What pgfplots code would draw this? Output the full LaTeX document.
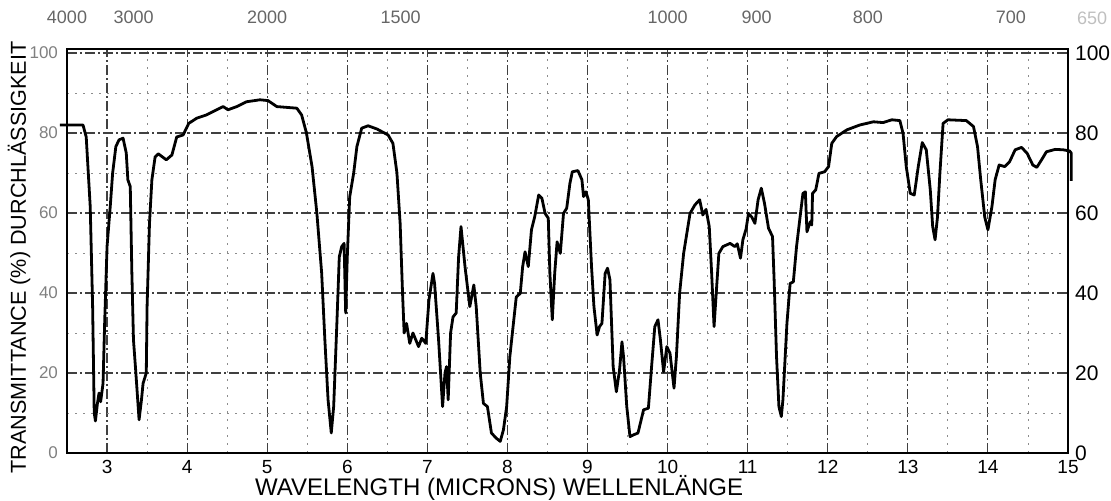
\documentclass[border=0pt]{standalone}
\usepackage{fontspec}
\setmainfont{Liberation Sans}
\usepackage{pgfplots}
\pgfplotsset{compat=1.18}

% IR-Spektrum, Werte (Wellenlaenge in micron, Transmission in %)
\begin{document}
\begin{tikzpicture}
\pgfplotsset{
  irframe/.style={
    scale only axis, width=500.5pt, height=202pt,
    xmin=2.5, xmax=15, ymin=0, ymax=101,
    /pgf/number format/assume math mode=true,
    major tick length=0pt, minor tick length=0pt,
    axis line style={line width=0.9pt},
    clip=false,
  }
}
\begin{axis}[irframe,
  xtick={3,...,15}, ytick={0,20,...,100},
  minor x tick num=1, minor y tick num=1,
  xtick pos=bottom, ytick pos=left,
  xticklabel style={font=\fontsize{9.5}{10}\selectfont},
  yticklabel style={font=\fontsize{8.5}{10}\selectfont, black!50, xshift=-1pt},
  grid=both,
  major grid style={black!75, line width=0.55pt, dash pattern=on 5pt off 1.5pt on 1pt off 1.5pt},
  minor grid style={black!45, line width=0.4pt, dash pattern=on 1pt off 3pt},
  xlabel={WAVELENGTH (MICRONS) WELLENLÄNGE},
  ylabel={TRANSMITTANCE (\%) DURCHLÄSSIGKEIT},
  xlabel style={font=\fontsize{12}{13}\selectfont, at={(rel axis cs:0.4316,-0.0864)}, anchor=center},
  ylabel style={font=\fontsize{10.8}{12}\selectfont, at={(rel axis cs:-0.048,0.484)}, anchor=center},
]
\addplot[black, line width=1.4pt, line join=round] coordinates {
(2.41,82) (2.70,82) (2.74,79) (2.79,61.6) (2.82,36.6) (2.84,10) (2.855,8)
(2.88,12.4) (2.90,15) (2.92,12.8) (2.95,17.4) (2.97,32.4) (3.00,51.6)
(3.04,61.6) (3.07,70) (3.11,76.6) (3.15,78.3) (3.20,78.7) (3.24,75)
(3.26,68.3) (3.29,66.6) (3.31,45) (3.33,28.3) (3.36,20) (3.40,8.3)
(3.43,13.3) (3.45,17.4) (3.49,20) (3.50,36.6) (3.53,57.4) (3.56,68.3)
(3.60,74) (3.64,74.8) (3.74,73.3) (3.81,74.5) (3.87,79) (3.95,79.5)
(4.02,82.4) (4.12,83.7) (4.24,84.5) (4.37,85.8) (4.45,86.6) (4.51,85.8)
(4.62,86.6) (4.74,87.8) (4.91,88.3) (5.01,88.1) (5.12,86.6) (5.37,86.2)
(5.43,84.5) (5.49,80) (5.56,71.6) (5.62,60) (5.68,45) (5.72,28.3)
(5.76,13.3) (5.80,5) (5.83,11.6) (5.87,32.4) (5.90,49) (5.93,51.6)
(5.96,52.4) (5.98,35) (6.00,49) (6.03,64) (6.08,70) (6.12,76.6)
(6.18,81.2) (6.26,81.8) (6.37,81) (6.51,79.5) (6.57,77.4) (6.62,70)
(6.66,57.4) (6.69,40) (6.71,30) (6.74,32.4) (6.78,27.4) (6.82,30)
(6.89,26.6) (6.93,28.7) (6.98,27.4) (7.02,38.3) (7.07,44.9) (7.09,42.4)
(7.14,28.3) (7.19,11.6) (7.22,20) (7.24,21.6) (7.26,13.3) (7.29,30)
(7.32,34) (7.36,35) (7.39,49) (7.42,56.6) (7.47,46.6) (7.53,36.6)
(7.58,42) (7.61,36.6) (7.66,20) (7.70,12.4) (7.75,11.6) (7.80,5)
(7.86,3.7) (7.91,2.9) (7.95,5.8) (7.99,11.6) (8.03,24.1) (8.11,39)
(8.16,39.9) (8.19,46.6) (8.22,50.3) (8.26,46.6) (8.30,55.8) (8.34,59)
(8.39,64.5) (8.43,63.7) (8.47,59.9) (8.51,58.7) (8.53,44.9) (8.56,33.3)
(8.59,44.9) (8.62,52.8) (8.66,49.9) (8.70,59.9) (8.74,61.2) (8.78,67.4)
(8.81,70.3) (8.88,70.6) (8.93,68.3) (8.95,64.1) (8.98,65.3) (9.01,63.3)
(9.05,46.6) (9.08,36.6) (9.12,29.5) (9.15,31.6) (9.18,32.4) (9.22,44.9)
(9.25,46.2) (9.28,43.3) (9.32,21.6) (9.36,15.3) (9.40,20.8) (9.43,27.8)
(9.45,24) (9.49,11.6) (9.53,4.1) (9.57,4.5) (9.63,5) (9.70,10.8)
(9.76,11.2) (9.80,21.6) (9.84,31.6) (9.88,33.3) (9.91,28.3) (9.95,20.3)
(9.99,26.6) (10.03,24.9) (10.08,16.2) (10.11,24.1) (10.15,39.9) (10.20,49.9)
(10.24,54.9) (10.28,59.9) (10.34,62) (10.40,63.3) (10.44,59.5) (10.48,60.9)
(10.52,56.6) (10.55,44.9) (10.58,31.6) (10.61,40.8) (10.64,49.9) (10.69,51.6)
(10.78,52.4) (10.84,51.6) (10.87,52.3) (10.91,48.7) (10.94,53.3) (10.98,56)
(11.01,59.9) (11.05,59) (11.09,57.4) (11.13,63.3) (11.17,66.2) (11.21,62.4)
(11.26,56.2) (11.31,54.1) (11.33,43.3) (11.36,24.1) (11.39,11.6) (11.42,9.1)
(11.44,13.3) (11.49,32.4) (11.53,42.4) (11.57,42.8) (11.61,51.6) (11.65,58.3)
(11.69,64.9) (11.72,65.3) (11.74,55.3) (11.78,57.8) (11.80,57) (11.81,64.9)
(11.85,65.8) (11.89,69.9) (11.96,70.3) (12.01,71.6) (12.05,77.4) (12.11,79.1)
(12.24,80.8) (12.40,82) (12.57,82.8) (12.69,82.6) (12.80,83.3) (12.90,83.1)
(12.94,79.9) (12.98,71.6) (13.03,64.9) (13.08,64.5) (13.13,71.6) (13.18,77.6)
(13.23,75.8) (13.28,65.8) (13.31,56.6) (13.34,53.3) (13.37,59) (13.40,69.9)
(13.44,82.4) (13.50,83.3) (13.73,83.1) (13.82,81.6) (13.87,76.6) (13.91,68.3)
(13.96,59) (14.00,55.8) (14.05,61.6) (14.09,68.3) (14.14,72) (14.21,71.6)
(14.27,72.8) (14.34,75.8) (14.42,76.4) (14.49,74.9) (14.56,72) (14.61,71.4)
(14.67,73.3) (14.73,75.3) (14.84,75.9) (14.94,75.8) (15.02,75.5) (15.04,75)
(15.04,68)
};
\end{axis}
\begin{axis}[irframe,
  axis x line*=top, axis y line*=right,
  xtick={2.5,3.3333,5,6.6667,10,11.1111,12.5,14.2857},
  xticklabels={4000,3000,2000,1500,1000,900,800,700},
  ytick={0,20,...,100},
  xticklabel style={font=\fontsize{9}{10}\selectfont, black!60, yshift=9pt},
  yticklabel style={font=\fontsize{10.5}{11}\selectfont},
]
\node[font=\fontsize{9}{10}\selectfont, black!25, yshift=15.5pt] at (axis cs:15.3,101) {650};
\end{axis}
\pgfresetboundingbox
\path ([shift={(-33.5pt,-24pt)}]current axis.south west) rectangle ([shift={(21.5pt,24.5pt)}]current axis.north east);
\end{tikzpicture}
\end{document}
